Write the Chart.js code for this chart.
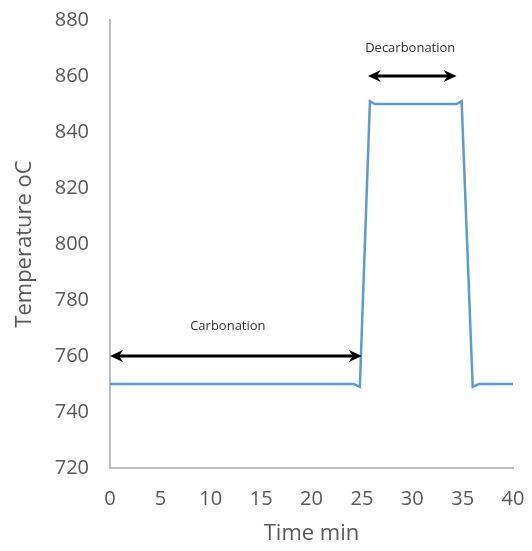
<!DOCTYPE html>
<html>
<head>
<meta charset="utf-8">
<script src="https://cdn.jsdelivr.net/npm/chart.js@4"></script>
<style>
  html, body { margin: 0; padding: 0; background: #fff; }
  #wrap { width: 532px; height: 551px; }
</style>
</head>
<body>
<div id="wrap"><canvas id="myChart"></canvas></div>
<script>
// time (min) and temperature (oC)
const timeMin = [0, 24.2, 24.8, 25.8, 26.3, 34.4, 34.9, 36.0, 36.6, 40];
const tempC   = [750, 750, 749, 851, 850, 850, 851, 749, 750, 750];

// annotation arrows: [x start, x end, y], labels [x, y]
const arrowLabels = ['Carbonation', 'Decarbonation'];
const arrowFrom = [0, 25.6];
const arrowTo = [25, 34.4];
const arrowY = [760, 860];
const labelX = [11.7, 29.8];
const labelY = [770.5, 870];

const xTicks = [0, 5, 10, 15, 20, 25, 30, 35, 40];
const yTicks = [720, 740, 760, 780, 800, 820, 840, 860, 880];

const points = timeMin.map((t, i) => ({ x: t, y: tempC[i] }));

function arrowHead(c, x, y, dir) {
    c.beginPath();
    c.moveTo(x, y);
    c.lineTo(x - dir * 13, y - 6);
    c.lineTo(x - dir * 9, y);
    c.lineTo(x - dir * 13, y + 6);
    c.closePath();
    c.fill();
}

// draws the double arrows and their labels
const arrowPlugin = {
    id: 'arrows',
    afterDatasetsDraw(chart) {
        const c = chart.ctx;
        const xs = chart.scales.x, ys = chart.scales.y;
        c.save();
        c.lineWidth = 3;
        for (let i = 0; i < arrowLabels.length; i++) {
            const x1 = xs.getPixelForValue(arrowFrom[i]);
            const x2 = xs.getPixelForValue(arrowTo[i]);
            const y = ys.getPixelForValue(arrowY[i]);
            c.strokeStyle = '#000';
            c.fillStyle = '#000';
            c.beginPath();
            c.moveTo(x1 + 8, y);
            c.lineTo(x2 - 8, y);
            c.stroke();
            arrowHead(c, x1, y, -1);
            arrowHead(c, x2, y, 1);
            c.font = '13px "Open Sans"';
            c.fillStyle = '#333';
            c.textAlign = 'center';
            c.textBaseline = 'middle';
            c.fillText(arrowLabels[i], xs.getPixelForValue(labelX[i]), ys.getPixelForValue(labelY[i]));
        }
        c.restore();
    }
};

new Chart(document.getElementById('myChart'), {
    type: 'line',
    data: {
        datasets: [{
            data: points,
            borderColor: '#5b9bd5',
            borderWidth: 2.5,
            pointRadius: 0,
            tension: 0,
            fill: false
        }]
    },
    options: {
        responsive: true,
        maintainAspectRatio: false,
        animation: false,
        layout: { padding: { top: 20, right: 19, left: 8, bottom: 0 } },
        plugins: { legend: { display: false }, tooltip: { enabled: false } },
        scales: {
            x: {
                type: 'linear',
                min: 0,
                max: 40,
                afterBuildTicks: s => { s.ticks = xTicks.map(v => ({ value: v })); },
                grid: { display: false, drawTicks: false },
                border: { color: '#bfbfbf', width: 2 },
                ticks: { color: '#595959', font: { family: 'Open Sans', size: 20 }, padding: 19 },
                title: { display: true, text: 'Time min', color: '#595959', font: { family: 'Open Sans', size: 22 }, padding: { top: 7 } },
                afterFit: s => { s.height = 83; s.paddingLeft = 0; s.paddingRight = 0; }
            },
            y: {
                min: 720,
                max: 880,
                afterBuildTicks: s => { s.ticks = yTicks.map(v => ({ value: v })); },
                grid: { display: false, drawTicks: false },
                border: { color: '#bfbfbf', width: 2 },
                ticks: { color: '#595959', font: { family: 'Open Sans', size: 20 }, padding: 21 },
                title: { display: true, text: 'Temperature oC', color: '#595959', font: { family: 'Open Sans', size: 22 } },
                afterFit: s => { s.width = 102; s.paddingTop = 0; s.paddingBottom = 0; }
            }
        }
    },
    plugins: [arrowPlugin]
});
</script>
</body>
</html>
